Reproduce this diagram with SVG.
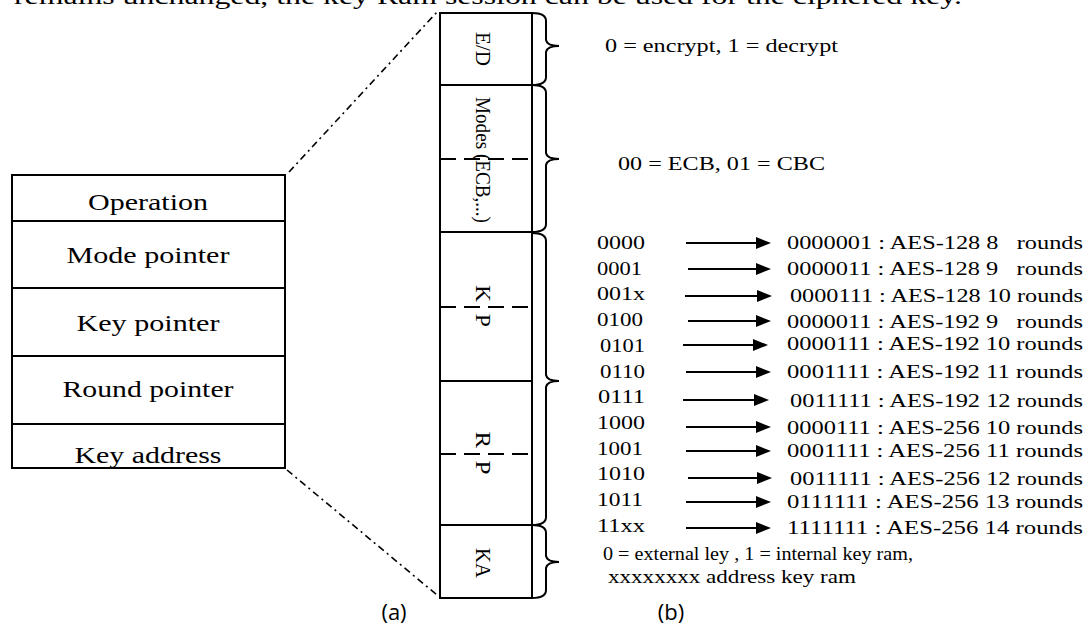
<svg xmlns="http://www.w3.org/2000/svg" width="1086" height="640" viewBox="0 0 1086 640">
<defs>
<style>
.t{font-family:"Liberation Serif","Times New Roman",serif;fill:#000}
.pre{white-space:pre}
.box{fill:none;stroke:#000;stroke-width:2}
.ln{stroke:#000;stroke-width:2;fill:none}
.dash{stroke:#000;stroke-width:2;stroke-dasharray:16 8;fill:none}
.dd{stroke:#000;stroke-width:1.6;stroke-dasharray:7 4 2 4;fill:none}
.br{stroke:#000;stroke-width:2;fill:none}
.ar{stroke:#000;stroke-width:2.2;fill:none;marker-end:url(#ah)}
.lb{font-size:24px}
.cl{font-size:20px}
.rl{font-size:18px}
.cap{font-family:"Open Sans","Noto Sans",sans-serif;font-size:22px;fill:#000}
</style>
<marker id="ah" viewBox="0 0 15 12" markerWidth="15" markerHeight="12" refX="1" refY="6" orient="auto" markerUnits="userSpaceOnUse">
<path d="M0,0 L15,6 L0,12 z" fill="#000"/>
</marker>
</defs>
<rect width="1086" height="640" fill="#fff"/>

<text class="t" x="14" y="4" font-size="24" textLength="948" lengthAdjust="spacingAndGlyphs">remains unchanged, the key Ram session can be used for the ciphered key.</text>

<g id="register-a">
<rect class="box" x="12" y="175" width="273" height="293"/>
<line class="ln" x1="12" y1="221" x2="285" y2="221"/>
<line class="ln" x1="12" y1="288" x2="285" y2="288"/>
<line class="ln" x1="12" y1="356" x2="285" y2="356"/>
<line class="ln" x1="12" y1="424" x2="285" y2="424"/>
<text class="t lb" x="148" y="210" text-anchor="middle" textLength="120" lengthAdjust="spacingAndGlyphs">Operation</text>
<text class="t lb" x="148" y="263" text-anchor="middle" textLength="163" lengthAdjust="spacingAndGlyphs">Mode pointer</text>
<text class="t lb" x="148" y="331" text-anchor="middle" textLength="143" lengthAdjust="spacingAndGlyphs">Key pointer</text>
<text class="t lb" x="148" y="397" text-anchor="middle" textLength="171" lengthAdjust="spacingAndGlyphs">Round pointer</text>
<text class="t lb" x="148" y="463" text-anchor="middle" textLength="147" lengthAdjust="spacingAndGlyphs">Key address</text>
</g>

<g id="register-b">
<rect class="box" x="440" y="13" width="92" height="585"/>
<line class="ln" x1="440" y1="85" x2="532" y2="85"/>
<line class="ln" x1="440" y1="232" x2="532" y2="232"/>
<line class="ln" x1="440" y1="381" x2="532" y2="381"/>
<line class="ln" x1="440" y1="525" x2="532" y2="525"/>
<line class="dash" x1="440" y1="159" x2="532" y2="159"/>
<line class="dash" x1="440" y1="307" x2="532" y2="307"/>
<line class="dash" x1="440" y1="454" x2="532" y2="454"/>
<text class="t cl" transform="translate(476,49) rotate(90)" text-anchor="middle" textLength="34" lengthAdjust="spacingAndGlyphs">E/D</text>
<text class="t cl" transform="translate(476,160) rotate(90)" text-anchor="middle" textLength="126" lengthAdjust="spacingAndGlyphs">Modes (ECB,...)</text>
<text class="t cl pre" transform="translate(476,306) rotate(90)" text-anchor="middle" textLength="42" lengthAdjust="spacingAndGlyphs" xml:space="preserve">K  P</text>
<text class="t cl pre" transform="translate(476,453) rotate(90)" text-anchor="middle" textLength="43" lengthAdjust="spacingAndGlyphs" xml:space="preserve">R  P</text>
<text class="t cl" transform="translate(476,563) rotate(90)" text-anchor="middle" textLength="30" lengthAdjust="spacingAndGlyphs">KA</text>
</g>

<g id="connectors">
<line class="dd" x1="289" y1="172" x2="437" y2="12"/>
<line class="dd" x1="287" y1="470" x2="437" y2="595"/>
<path class="br" d="M532,13 Q546,13 546,21 L546,40 Q547,46 559,46 Q547,46 546,52 L546,77 Q546,85 532,85"/>
<path class="br" d="M532,85 Q546,85 546,93 L546,153 Q547,159 559,159 Q547,159 546,165 L546,224 Q546,232 532,232"/>
<path class="br" d="M532,233 Q546,233 546,241 L546,375 Q547,381 559,381 Q547,381 546,387 L546,517 Q546,525 532,525"/>
<path class="br" d="M532,525 Q546,525 546,533 L546,556 Q547,562 559,562 Q547,562 546,568 L546,590 Q546,598 532,598"/>
<line class="ar" x1="686" y1="243" x2="757" y2="243"/>
<line class="ar" x1="688" y1="269" x2="757" y2="269"/>
<line class="ar" x1="685" y1="296" x2="758" y2="296"/>
<line class="ar" x1="688" y1="321" x2="757" y2="321"/>
<line class="ar" x1="683" y1="345" x2="754" y2="345"/>
<line class="ar" x1="686" y1="372" x2="757" y2="372"/>
<line class="ar" x1="683" y1="400" x2="755" y2="400"/>
<line class="ar" x1="686" y1="427" x2="757" y2="427"/>
<line class="ar" x1="686" y1="451" x2="757" y2="451"/>
<line class="ar" x1="688" y1="478" x2="758" y2="478"/>
<line class="ar" x1="686" y1="502" x2="757" y2="502"/>
<line class="ar" x1="686" y1="528" x2="757" y2="528"/>
</g>

<g id="notes">
<text class="t" x="605" y="52" font-size="19" textLength="233" lengthAdjust="spacingAndGlyphs">0 = encrypt, 1 = decrypt</text>
<text class="t" x="618" y="170" font-size="19" textLength="207" lengthAdjust="spacingAndGlyphs">00 = ECB, 01 = CBC</text>
<text class="t" x="603" y="560" font-size="18" textLength="310" lengthAdjust="spacingAndGlyphs">0 = external ley , 1 = internal key ram,</text>
<text class="t" x="608" y="583" font-size="18" textLength="248" lengthAdjust="spacingAndGlyphs">xxxxxxxx address key ram</text>
</g>

<g id="codes">
<text class="t rl" x="597" y="249" textLength="48" lengthAdjust="spacingAndGlyphs">0000</text>
<text class="t rl" x="597" y="275" textLength="45" lengthAdjust="spacingAndGlyphs">0001</text>
<text class="t rl" x="597" y="300" textLength="48" lengthAdjust="spacingAndGlyphs">001x</text>
<text class="t rl" x="597" y="326" textLength="46" lengthAdjust="spacingAndGlyphs">0100</text>
<text class="t rl" x="600" y="352" textLength="45" lengthAdjust="spacingAndGlyphs">0101</text>
<text class="t rl" x="600" y="378" textLength="45" lengthAdjust="spacingAndGlyphs">0110</text>
<text class="t rl" x="598" y="403" textLength="47" lengthAdjust="spacingAndGlyphs">0111</text>
<text class="t rl" x="597" y="429" textLength="48" lengthAdjust="spacingAndGlyphs">1000</text>
<text class="t rl" x="597" y="455" textLength="46" lengthAdjust="spacingAndGlyphs">1001</text>
<text class="t rl" x="597" y="480" textLength="48" lengthAdjust="spacingAndGlyphs">1010</text>
<text class="t rl" x="597" y="506" textLength="46" lengthAdjust="spacingAndGlyphs">1011</text>
<text class="t rl" x="597" y="532" textLength="48" lengthAdjust="spacingAndGlyphs">11xx</text>
</g>

<g id="results">
<text class="t rl pre" xml:space="preserve" x="787" y="249" textLength="296" lengthAdjust="spacingAndGlyphs">0000001 : AES-128 8   rounds</text>
<text class="t rl pre" xml:space="preserve" x="787" y="275" textLength="296" lengthAdjust="spacingAndGlyphs">0000011 : AES-128 9   rounds</text>
<text class="t rl" x="790" y="302" textLength="293" lengthAdjust="spacingAndGlyphs">0000111 : AES-128 10 rounds</text>
<text class="t rl pre" xml:space="preserve" x="787" y="328" textLength="296" lengthAdjust="spacingAndGlyphs">0000011 : AES-192 9   rounds</text>
<text class="t rl" x="787" y="350" textLength="296" lengthAdjust="spacingAndGlyphs">0000111 : AES-192 10 rounds</text>
<text class="t rl" x="787" y="378" textLength="296" lengthAdjust="spacingAndGlyphs">0001111 : AES-192 11 rounds</text>
<text class="t rl" x="790" y="407" textLength="293" lengthAdjust="spacingAndGlyphs">0011111 : AES-192 12 rounds</text>
<text class="t rl" x="787" y="434" textLength="296" lengthAdjust="spacingAndGlyphs">0000111 : AES-256 10 rounds</text>
<text class="t rl" x="787" y="457" textLength="296" lengthAdjust="spacingAndGlyphs">0001111 : AES-256 11 rounds</text>
<text class="t rl" x="790" y="485" textLength="293" lengthAdjust="spacingAndGlyphs">0011111 : AES-256 12 rounds</text>
<text class="t rl" x="787" y="508" textLength="296" lengthAdjust="spacingAndGlyphs">0111111 : AES-256 13 rounds</text>
<text class="t rl" x="787" y="534" textLength="296" lengthAdjust="spacingAndGlyphs">1111111 : AES-256 14 rounds</text>
</g>

<text class="cap" x="394" y="620" text-anchor="middle">(a)</text>
<text class="cap" x="671" y="620" text-anchor="middle">(b)</text>
</svg>
